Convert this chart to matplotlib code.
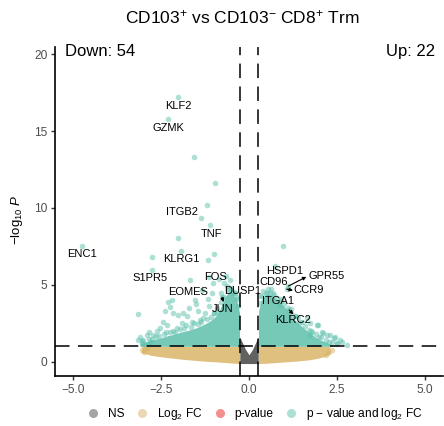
import matplotlib
matplotlib.use("Agg")
import matplotlib.pyplot as plt
from matplotlib.lines import Line2D

plt.rcParams["font.family"] = ["Liberation Sans", "DejaVu Sans"]
plt.rcParams["mathtext.fontset"] = "custom"
plt.rcParams["mathtext.rm"] = "Liberation Sans"
plt.rcParams["mathtext.it"] = "Liberation Sans:italic"
plt.rcParams["mathtext.bf"] = "Liberation Sans:bold"

# ---------------- data ----------------
# labelled genes: log2 fold change and -log10 p
genes = ["KLF2", "GZMK", "ITGB2", "TNF", "KLRG1", "ENC1", "S1PR5", "EOMES",
         "FOS", "DUSP1", "JUN", "HSPD1", "CD96", "GPR55", "CCR9", "ITGA1", "KLRC2"]
gene_lfc = [-2.01, -2.29, -1.37, -1.11, -1.93, -4.75, -2.76, -1.68,
            -0.70, -0.45, -0.77, 0.74, 0.62, 1.12, 1.07, 0.85, 1.14]
gene_nlp = [17.2, 15.8, 9.33, 8.9, 7.2, 7.5, 5.97, 5.3,
            5.1, 4.5, 4.2, 6.2, 4.7, 4.92, 4.72, 3.7, 3.36]

# other significant genes (p-value and log2 FC) outside the dense core
down_lfc = [-1.57, -0.96, -1.18, -2.03, -0.99, -1.16, -2.76, -1.13, -1.01, -1.51,
            -3.16, -2.20, -2.24, -2.17, -1.16, -1.13, -1.87, -2.34, -2.53, -2.72,
            -2.91, -3.00, -3.14, -1.91, -1.63, -1.39, -2.10, -0.80, -0.92, -2.29,
            -2.39, -2.01, -1.77, -1.34, -1.53, -0.59, -0.55, -0.62, -1.45, -1.25,
            -2.60, -2.85, -2.45, -3.05, -2.95, -2.80, -1.70, -1.05, -0.85, -0.65,
            -3.10, -2.65, -2.35, -2.05, -1.80, -1.55, -1.30, -1.00, -0.40, -0.33,
            -3.05, -2.85, -2.75, -2.55, -2.40, -2.25, -2.15, -1.95, -1.85, -1.65,
            -1.45, -1.35, -1.20, -1.08, -0.98, -0.90, -0.80, -0.72, -0.60, -0.50,
            -0.42, -0.35, -0.30]
down_nlp = [13.3, 11.6, 10.2, 8.03, 6.99, 6.62, 6.83, 5.53, 5.10, 3.73,
            3.10, 4.00, 3.58, 3.19, 4.06, 3.62, 3.15, 2.39, 2.17, 1.74,
            1.74, 1.41, 1.41, 2.50, 2.60, 2.71, 1.95, 4.45, 3.25, 3.90,
            3.32, 3.04, 2.97, 4.67, 4.01, 4.67, 5.30, 4.90, 3.30, 3.20,
            2.00, 1.95, 2.55, 1.20, 1.15, 1.30, 3.50, 4.50, 5.40, 5.60,
            1.60, 1.70, 1.95, 2.20, 2.40, 2.50, 2.85, 3.20, 4.50, 4.10,
            1.35, 1.50, 1.45, 1.70, 1.80, 1.90, 2.00, 2.10, 2.20, 2.25,
            2.45, 2.55, 2.80, 2.90, 3.15, 3.50, 3.90, 4.20, 4.75, 4.80,
            4.55, 4.20, 3.60]
up_lfc = [0.96, 0.69, 1.40, 1.64, 1.73, 1.92, 2.06, 2.30, 2.44, 2.59,
          2.77, 1.69, 1.73, 1.97, 2.11, 2.21, 2.26, 2.40, 2.49, 2.63,
          0.40, 0.55, 0.30, 1.30, 1.50, 0.90, 1.20, 2.00, 1.80, 0.50,
          0.30, 0.38, 0.48, 0.60, 0.70, 0.80, 0.90, 1.00, 1.10, 1.20,
          1.30, 1.45, 1.60, 1.75, 1.90, 2.05, 2.20, 2.35, 2.50]
up_nlp = [7.53, 4.45, 2.93, 2.82, 2.50, 2.39, 1.95, 1.74, 1.63, 1.41,
          1.10, 2.06, 1.74, 2.39, 1.85, 1.74, 1.30, 1.52, 1.20, 1.30,
          4.60, 4.70, 4.30, 3.00, 2.60, 4.10, 3.40, 1.60, 1.90, 4.45,
          3.80, 4.25, 4.50, 4.50, 4.35, 4.15, 3.95, 3.75, 3.50, 3.20,
          2.95, 2.60, 2.30, 2.00, 1.80, 1.60, 1.40, 1.25, 1.15]

# envelopes of the densely packed point clouds
teal_dn_lfc = [-3.10, -2.90, -2.70, -2.50, -2.30, -2.10, -1.90, -1.70, -1.50, -1.30,
               -1.10, -0.95, -0.85, -0.75, -0.65, -0.55, -0.45, -0.35, -0.27]
teal_dn_top = [1.15, 1.30, 1.45, 1.55, 1.70, 1.80, 1.95, 2.05, 2.20, 2.40,
               2.65, 2.95, 3.30, 3.80, 4.30, 4.60, 4.40, 4.00, 3.20]
teal_up_lfc = [0.27, 0.35, 0.45, 0.55, 0.65, 0.75, 0.85, 0.95, 1.05, 1.15,
               1.25, 1.40, 1.55, 1.70, 1.85, 2.00, 2.15, 2.30, 2.45]
teal_up_top = [3.30, 4.00, 4.30, 4.40, 4.30, 4.10, 3.90, 3.70, 3.45, 3.15,
               2.85, 2.50, 2.20, 1.90, 1.65, 1.45, 1.30, 1.15, 1.05]
fc_dn_lfc = [-3.05, -2.80, -2.50, -2.20, -1.90, -1.60, -1.30, -1.00, -0.70, -0.40, -0.26]
fc_dn_bot = [0.60, 0.42, 0.32, 0.24, 0.16, 0.10, 0.04, 0.00, -0.05, -0.10, -0.12]
fc_up_lfc = [0.26, 0.50, 0.80, 1.10, 1.40, 1.70, 1.95, 2.15, 2.30]
fc_up_bot = [-0.12, -0.10, -0.05, 0.00, 0.05, 0.12, 0.22, 0.35, 0.50]
fc_edge_lfc = [-3.05, -2.97, -2.90, 2.20, 2.28, 2.35]
fc_edge_nlp = [0.75, 0.62, 0.88, 0.45, 0.62, 0.78]
ns_lfc = [-0.26, -0.20, -0.10, 0.00, 0.10, 0.20, 0.26]
ns_top = [1.60, 1.30, 0.80, 0.45, 0.80, 1.30, 1.60]

n_down, n_up = 54, 22
fc_cut, p_cut = 0.25, 1.0

x_ticks = [-5.0, -2.5, 0.0, 2.5, 5.0]
y_ticks = [0, 5, 10, 15, 20]

# ---------------- styling ----------------
col_ns = "#4D4D4D"
col_fc = "#D8B266"
col_p = "#E8201E"
col_both = "#5CC0AC"
fill_teal = "#76C9B7"
fill_tan = "#E0C07E"
fill_gray = "#616161"

# label placements (text centre) and arrow heads
label_xy = {
    "KLF2": (-2.00, 16.66), "GZMK": (-2.29, 15.22), "ITGB2": (-1.91, 9.76),
    "TNF": (-1.06, 8.29), "KLRG1": (-1.93, 6.66), "ENC1": (-4.75, 6.99),
    "S1PR5": (-2.82, 5.47), "EOMES": (-1.73, 4.55), "FOS": (-0.94, 5.49),
    "DUSP1": (-0.17, 4.62), "JUN": (-0.74, 3.41), "HSPD1": (1.00, 5.92),
    "CD96": (0.69, 5.20), "GPR55": (2.20, 5.60), "CCR9": (1.69, 4.66),
    "ITGA1": (0.81, 3.95), "KLRC2": (1.26, 2.71),
}
arrow_head = {"GPR55": (1.63, 5.52), "CCR9": (1.25, 4.64),
              "KLRC2": (1.26, 3.08), "JUN": (-0.72, 3.88)}

fig = plt.figure(figsize=(4.44, 4.26), dpi=100)
ax = fig.add_axes([55 / 444, 50 / 426, 388 / 444, 329 / 426])

# dense cores
ax.fill_between(fc_dn_lfc, fc_dn_bot, p_cut, color=fill_tan, lw=0, zorder=1)
ax.fill_between(fc_up_lfc, fc_up_bot, p_cut, color=fill_tan, lw=0, zorder=1)
ax.fill_between(ns_lfc, -0.12, ns_top, color=fill_gray, lw=0, zorder=1)
ax.fill_between(teal_dn_lfc, p_cut, teal_dn_top, color=fill_teal, lw=0, zorder=1)
ax.fill_between(teal_up_lfc, p_cut, teal_up_top, color=fill_teal, lw=0, zorder=1)

# individual points
ax.scatter(fc_edge_lfc, fc_edge_nlp, s=16, color=col_fc, alpha=0.5, lw=0, zorder=2)
ax.scatter(down_lfc, down_nlp, s=16, color=col_both, alpha=0.5, lw=0, zorder=2)
ax.scatter(up_lfc, up_nlp, s=16, color=col_both, alpha=0.5, lw=0, zorder=2)
ax.scatter(gene_lfc, gene_nlp, s=16, color=col_both, alpha=0.5, lw=0, zorder=2)

# cut-off lines
dash = (9.5, 5.5)
for xv in (-fc_cut, fc_cut):
    ax.axvline(xv, color="black", lw=1.1, dashes=dash, zorder=3)
ax.axhline(p_cut, color="black", lw=1.1, dashes=dash, zorder=3)

# gene labels
for g, x, y in zip(genes, gene_lfc, gene_nlp):
    tx, ty = label_xy[g]
    ax.text(tx, ty, g, fontsize=8, ha="center", va="center", color="black", zorder=5)
    if g in arrow_head:
        ax.annotate("", xy=arrow_head[g], xytext=(x, y),
                    arrowprops=dict(arrowstyle="-|>", lw=0.8, color="black",
                                    mutation_scale=5, shrinkA=0, shrinkB=0),
                    zorder=4)

ax.text(-5.22, 20.2, f"Down: {n_down}", fontsize=12, ha="left", va="center")
ax.text(5.28, 20.2, f"Up: {n_up}", fontsize=12, ha="right", va="center")

# axes
ax.set_xlim(-5.51, 5.51)
ax.set_ylim(-0.93, 20.47)
ax.set_xticks(x_ticks)
ax.set_xticklabels([f"{v:.1f}".replace("-", "\u2212") for v in x_ticks])
ax.set_yticks(y_ticks)
ax.set_yticklabels([str(v) for v in y_ticks])
for s in ("top", "right"):
    ax.spines[s].set_visible(False)
for s in ("left", "bottom"):
    ax.spines[s].set_linewidth(1.2)
ax.tick_params(axis="both", direction="out", length=3, width=1.0,
               color="#333333", labelcolor="#4D4D4D", labelsize=8.6, pad=2.5)
ax.set_ylabel(r"$-\log_{10}\,\mathit{P}$", fontsize=9.5, color="black")
ax.yaxis.set_label_coords(-0.078, 0.474)

fig.text(0.545, 0.96, r"CD103$^{+}$ vs CD103$^{-}$ CD8$^{+}$ Trm",
         fontsize=12.5, ha="center", va="center")

# legend
handles = [Line2D([], [], ls="", marker="o", ms=6.5, mew=0, color=c, alpha=0.5)
           for c in (col_ns, col_fc, col_p, col_both)]
labels = ["NS", r"Log$_{2}$ FC", "p-value", r"p $-$ value and log$_{2}$ FC"]
fig.legend(handles, labels, ncol=4, loc="center", bbox_to_anchor=(0.574, 0.027),
           frameon=False, fontsize=8.6, handlelength=1.0, handletextpad=0.75,
           columnspacing=0.95, borderpad=0)

fig.savefig("out.png", dpi=100)
